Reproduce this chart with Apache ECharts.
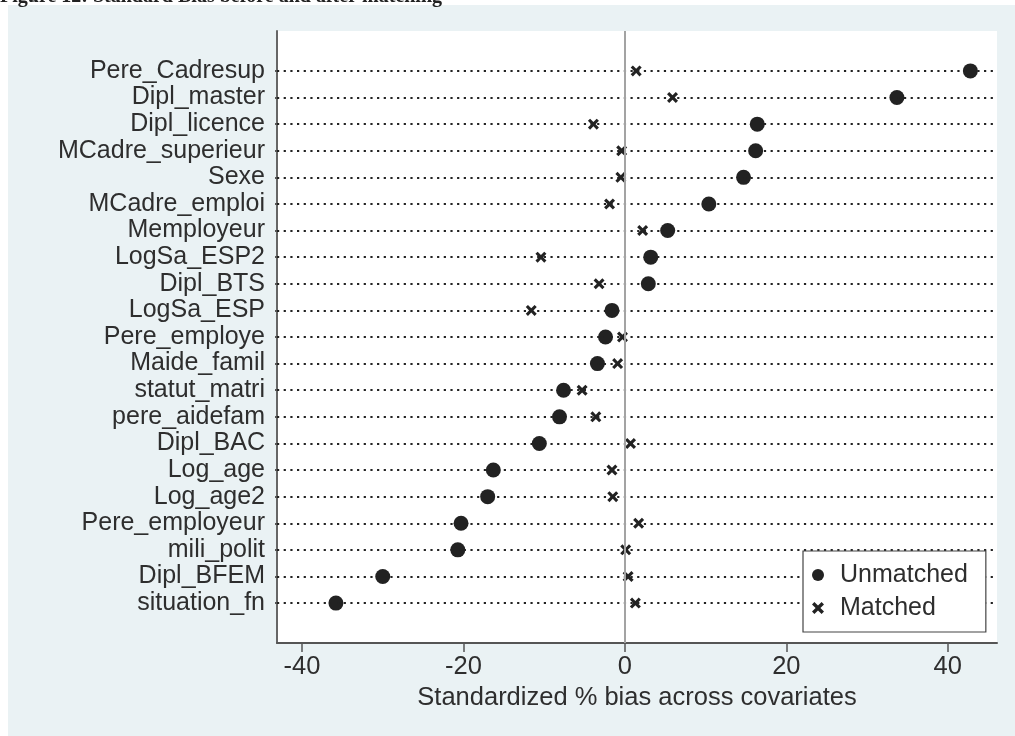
<!DOCTYPE html>
<html>
<head>
<meta charset="utf-8">
<script src="https://cdn.jsdelivr.net/npm/echarts@6/dist/echarts.min.js"></script>
<style>
  html, body { margin: 0; padding: 0; background: #ffffff; }
  #panel { position: absolute; left: 8px; top: 5px; right: 0; bottom: 0; background: #eaf2f4; }
  #chart { position: absolute; left: 0; top: 0; width: 1015px; height: 736px; }
</style>
</head>
<body>
<div id="panel"></div>
<div id="chart"></div>
<script>
// Covariates, top to bottom
const categories = [
  'Pere_Cadresup', 'Dipl_master', 'Dipl_licence', 'MCadre_superieur', 'Sexe',
  'MCadre_emploi', 'Memployeur', 'LogSa_ESP2', 'Dipl_BTS', 'LogSa_ESP',
  'Pere_employe', 'Maide_famil', 'statut_matri', 'pere_aidefam', 'Dipl_BAC',
  'Log_age', 'Log_age2', 'Pere_employeur', 'mili_polit', 'Dipl_BFEM', 'situation_fn'
];
// Standardized % bias before matching
const unmatched = [
  42.8, 33.7, 16.4, 16.2, 14.7,
  10.4, 5.3, 3.2, 2.9, -1.6,
  -2.4, -3.4, -7.6, -8.1, -10.6,
  -16.3, -17.0, -20.3, -20.7, -30.0, -35.8
];
// Standardized % bias after matching
const matched = [
  1.4, 5.9, -3.9, -0.4, -0.5,
  -1.9, 2.2, -10.4, -3.2, -11.6,
  -0.3, -0.9, -5.3, -3.6, 0.7,
  -1.6, -1.5, 1.7, 0.1, 0.4, 1.3
];
const xTicks = [-40, -20, 0, 20, 40];
const titleText = 'Figure 12: Standard Bias before and after matching';
const xTitle = 'Standardized % bias across covariates';

const FONT = '"Liberation Sans", Arial, sans-serif';
const INK = '#2e2e2e';
const rows = categories.map((c, i) => i);
const crossPath = 'path://M2,0 L5,3 L8,0 L10,2 L7,5 L10,8 L8,10 L5,7 L2,10 L0,8 L3,5 L0,2 Z';

const chart = echarts.init(document.getElementById('chart'), null, { renderer: 'canvas' });
chart.setOption({
  animation: false,
  backgroundColor: 'transparent',
  title: {
    text: titleText,
    left: 0,
    top: -13,
    padding: 0,
    textStyle: { fontFamily: '"Liberation Serif", "Times New Roman", serif', fontWeight: 'bold', fontSize: 20, color: '#222' }
  },
  grid: {
    left: 277, right: 18, top: 31, bottom: 93,
    show: true, backgroundColor: '#ffffff', borderWidth: 0
  },
  legend: {
    orient: 'vertical',
    left: 803, top: 551,
    z: 50,
    padding: [10, 18, 10, 9],
    itemGap: 5,
    itemWidth: 14, itemHeight: 12,
    backgroundColor: '#ffffff',
    borderColor: '#444', borderWidth: 1.2,
    textStyle: { fontFamily: FONT, fontSize: 25, color: INK, lineHeight: 28, padding: [0, 0, 0, 10] },
    data: [
      { name: 'Unmatched', icon: 'circle' },
      { name: 'Matched', icon: crossPath }
    ]
  },
  xAxis: {
    type: 'value',
    min: -43.1, max: 46.1,
    name: xTitle,
    nameLocation: 'middle',
    nameGap: 37,
    nameTextStyle: { fontFamily: FONT, fontSize: 25.5, color: INK },
    axisLine: { show: true, onZero: false, lineStyle: { color: '#555', width: 2 } },
    axisTick: { show: true, customValues: xTicks, length: 9, lineStyle: { color: '#555', width: 1.5 } },
    axisLabel: { customValues: xTicks, margin: 11, fontFamily: FONT, fontSize: 25.5, color: INK },
    splitLine: { show: false }
  },
  yAxis: {
    type: 'value',
    inverse: true,
    min: -1.5, max: 21.5,
    axisLine: { show: true, onZero: false, lineStyle: { color: '#666', width: 2 } },
    axisTick: { show: true, customValues: rows, length: 2, lineStyle: { color: '#555', width: 2 } },
    axisLabel: {
      customValues: rows,
      margin: 12,
      fontFamily: FONT, fontSize: 25, color: INK,
      formatter: v => categories[v] ?? ''
    },
    splitLine: { show: false }
  },
  series: [
    {
      // row guides and the zero reference line
      name: 'guides',
      type: 'scatter',
      data: [],
      silent: true,
      z: 1,
      markLine: {
        silent: true,
        symbol: 'none',
        label: { show: false },
        data: [
          ...rows.map(i => ({ yAxis: i, lineStyle: { type: [2.2, 4.47], color: '#222', width: 2.2 } })),
          { xAxis: 0, lineStyle: { type: 'solid', color: '#a3a3a3', width: 2 } }
        ]
      }
    },
    {
      name: 'Unmatched',
      type: 'scatter',
      symbol: 'circle',
      symbolSize: 15,
      itemStyle: { color: '#222222', opacity: 1 },
      data: unmatched.map((v, i) => [v, i]),
      z: 3
    },
    {
      name: 'Matched',
      type: 'scatter',
      symbol: crossPath,
      symbolSize: 11,
      itemStyle: { color: '#222222', opacity: 1 },
      data: matched.map((v, i) => [v, i]),
      z: 4
    }
  ]
});
</script>
</body>
</html>
